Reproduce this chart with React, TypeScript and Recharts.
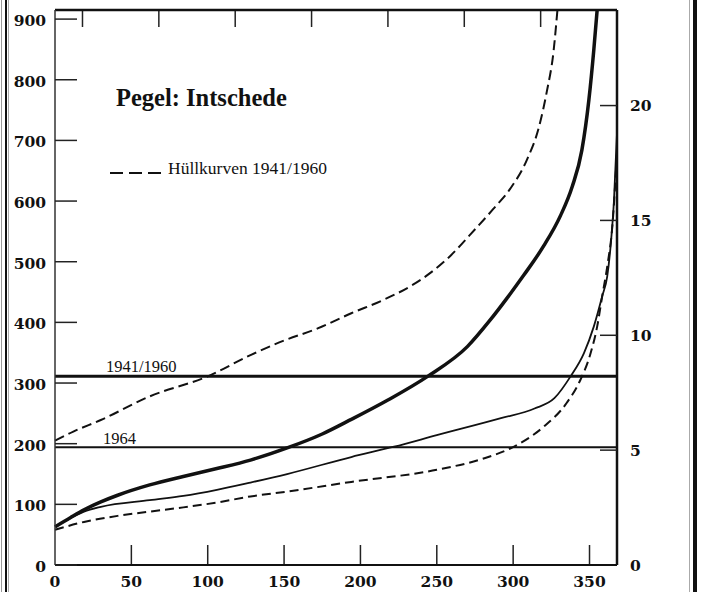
import React from 'react';
import { LineChart, Line, XAxis, YAxis, ReferenceLine } from 'recharts';

// Dauerlinien, Pegel Intschede (Tage / Wasserstand cm)
const thickDays = [0, 10, 19, 30, 41, 62, 84, 106, 128, 152, 175, 194, 218, 244, 270, 285, 296, 307, 320, 331, 338.7, 345, 349.6, 352.8, 355];
const thickVals = [63, 78, 91, 104, 115, 132, 146, 159, 173, 193, 216, 240, 272, 311, 360, 404, 440, 478, 526, 576, 624, 684, 767, 849, 915];

const thinDays = [0, 10, 19, 30, 62, 84, 106, 128, 152, 194, 222, 250, 292, 314, 327, 337.6, 346.3, 352.8, 358.3, 361.6, 364, 366, 368];
const thinVals = [63, 77, 88, 96, 107, 114, 124, 136, 150, 178, 195, 214, 242, 258, 275, 311, 349, 393, 443, 476, 531, 600, 712];

// Hüllkurven 1941/1960
const upperDays = [0, 12, 30, 62, 100, 128, 150, 172, 194, 215, 233, 246, 259, 272, 287, 298, 309, 317, 322, 326.5, 329];
const upperVals = [205, 220, 239, 278, 311, 346, 370, 390, 415, 437, 460, 482, 510, 545, 587, 620, 668, 723, 780, 848, 915];

const lowerDays = [0, 19, 41, 62, 84, 106, 128, 152, 194, 250, 280, 298, 320, 335, 344, 350.7, 355, 358.3, 361.6, 365, 368];
const lowerVals = [58, 71, 81, 88, 95, 103, 113, 121, 137, 157, 175, 192, 228, 267, 305, 349, 393, 443, 492, 560, 680];

const level19411960 = 311;
const level1964 = 194;

const xTicks = [0, 50, 100, 150, 200, 250, 300, 350];
const topTicks = [18, 68, 118, 168, 218, 268, 318];
const leftTicks = [0, 100, 200, 300, 400, 500, 600, 700, 800, 900];
const rightTicks = [0, 5, 10, 15, 20];

const Y_MAX = 915;

const toPoints = (days: number[], vals: number[]) => days.map((x, i) => ({ x, y: vals[i] }));

const AXIS_FONT = '"DejaVu Serif", serif';
const TEXT_FONT = '"Liberation Serif", serif';
const tickText = { fontFamily: AXIS_FONT, fontWeight: 'bold', fontSize: 15.5, fill: '#111' };
const tickStroke = { stroke: '#222', strokeWidth: 1.5 };

const BottomTick = (p: any) => (
  <text x={Number(p.x)} y={Number(p.y) + 14} textAnchor="middle" {...tickText}>
    {p.payload.value}
  </text>
);

const LeftTick = (p: any) => (
  <text x={Number(p.x)} y={Number(p.y) + 7} textAnchor="end" {...tickText}>
    {p.payload.value}
  </text>
);

const RightTick = (p: any) => {
  const x = Number(p.x);
  const y = Number(p.y);
  return (
    <g>
      {p.payload.value > 0 && <line x1={x - 13} x2={x - 30} y1={y} y2={y} {...tickStroke} />}
      <text x={x} y={y + 5.5} textAnchor="start" {...tickText}>
        {p.payload.value}
      </text>
    </g>
  );
};

const NoLabel = () => <g />;

const levelLabel = (text: string, dx: number, dy: number) => (props: any) => {
  const vb = props.viewBox || { x: 55, y: 0 };
  return (
    <text x={vb.x + dx} y={vb.y + dy} fontFamily={TEXT_FONT} fontSize={16.5} fill="#111">
      {text}
    </text>
  );
};

export default function App() {
  return (
    <div style={{ position: 'relative', width: 703, height: 592, background: '#fff', overflow: 'hidden' }}>
      <style>{`body{margin:0;background:#fff}`}</style>
      {/* Seitenrand des Scans */}
      <div style={{ position: 'absolute', left: 1, top: 0, width: 1, height: 592, background: '#999' }} />
      <div style={{ position: 'absolute', left: 5, top: 0, width: 2, height: 592, background: '#111' }} />
      <div style={{ position: 'absolute', left: 8, top: 0, width: 1, height: 592, background: '#aaa' }} />
      <div style={{ position: 'absolute', left: 689, top: 0, width: 1, height: 592, background: '#aaa' }} />
      <div style={{ position: 'absolute', left: 693, top: 0, width: 4, height: 592, background: '#111' }} />

      <LineChart width={703} height={592} margin={{ top: 9, right: 0, bottom: 0, left: 0 }}>
        <XAxis
          dataKey="x"
          type="number"
          domain={[0, 368]}
          ticks={xTicks}
          interval={0}
          height={27}
          tickSize={0}
          tickMargin={8}
          tickLine={false}
          axisLine={{ stroke: '#111', strokeWidth: 2 }}
          tick={<BottomTick />}
        />
        <XAxis
          xAxisId="top"
          orientation="top"
          dataKey="x"
          type="number"
          domain={[0, 368]}
          ticks={topTicks}
          interval={0}
          height={1}
          tickSize={0}
          tickLine={false}
          axisLine={{ stroke: '#111', strokeWidth: 2.5 }}
          tick={<NoLabel />}
        />
        <YAxis
          yAxisId="left"
          type="number"
          domain={[0, Y_MAX]}
          allowDataOverflow
          ticks={leftTicks}
          interval={0}
          width={55}
          tickSize={-22}
          tickMargin={31}
          tickLine={tickStroke}
          axisLine={{ stroke: '#333', strokeWidth: 1.5 }}
          tick={<LeftTick />}
        />
        <YAxis
          yAxisId="right"
          orientation="right"
          type="number"
          domain={[0, 24.16]}
          allowDataOverflow
          ticks={rightTicks}
          interval={0}
          width={86}
          tickSize={0}
          tickMargin={13}
          tickLine={false}
          axisLine={{ stroke: '#111', strokeWidth: 2.5 }}
          tick={<RightTick />}
        />

        {/* inward tick marks on bottom and top edge */}
        {xTicks.filter((t) => t > 0).map((t) => (
          <ReferenceLine
            key={`b${t}`}
            yAxisId="left"
            segment={[{ x: t, y: 0 }, { x: t, y: 33 }]}
            stroke="#222"
            strokeWidth={1.5}
          />
        ))}
        {topTicks.map((t) => (
          <ReferenceLine
            key={`t${t}`}
            yAxisId="left"
            segment={[{ x: t, y: Y_MAX }, { x: t, y: Y_MAX - 28 }]}
            stroke="#222"
            strokeWidth={1.5}
          />
        ))}

        <ReferenceLine
          yAxisId="left"
          y={level19411960}
          stroke="#111"
          strokeWidth={3}
          label={levelLabel('1941/1960', 51, -4)}
        />
        <ReferenceLine
          yAxisId="left"
          y={level1964}
          stroke="#111"
          strokeWidth={2}
          label={levelLabel('1964', 48, -3)}
        />

        <Line
          yAxisId="left"
          data={toPoints(upperDays, upperVals)}
          dataKey="y"
          type="monotone"
          stroke="#111"
          strokeWidth={2}
          strokeDasharray="10 5"
          dot={false}
          activeDot={false}
          isAnimationActive={false}
        />
        <Line
          yAxisId="left"
          data={toPoints(lowerDays, lowerVals)}
          dataKey="y"
          type="monotone"
          stroke="#111"
          strokeWidth={2}
          strokeDasharray="9 5"
          dot={false}
          activeDot={false}
          isAnimationActive={false}
        />
        <Line
          yAxisId="left"
          data={toPoints(thinDays, thinVals)}
          dataKey="y"
          type="monotone"
          stroke="#111"
          strokeWidth={1.8}
          dot={false}
          activeDot={false}
          isAnimationActive={false}
        />
        <Line
          yAxisId="left"
          data={toPoints(thickDays, thickVals)}
          dataKey="y"
          type="monotone"
          stroke="#111"
          strokeWidth={3.5}
          dot={false}
          activeDot={false}
          isAnimationActive={false}
        />
      </LineChart>

      <svg width={703} height={592} style={{ position: 'absolute', left: 0, top: 0, pointerEvents: 'none' }}>
        <text x={116} y={106} fontFamily={TEXT_FONT} fontWeight="bold" fontSize={24.5} fill="#111">
          Pegel: Intschede
        </text>
        <line x1={110} x2={163} y1={173} y2={173} stroke="#111" strokeWidth={2} strokeDasharray="13 6" />
        <text x={168} y={174} fontFamily={TEXT_FONT} fontSize={17.5} fill="#111">
          Hüllkurven 1941/1960
        </text>
      </svg>
    </div>
  );
}
